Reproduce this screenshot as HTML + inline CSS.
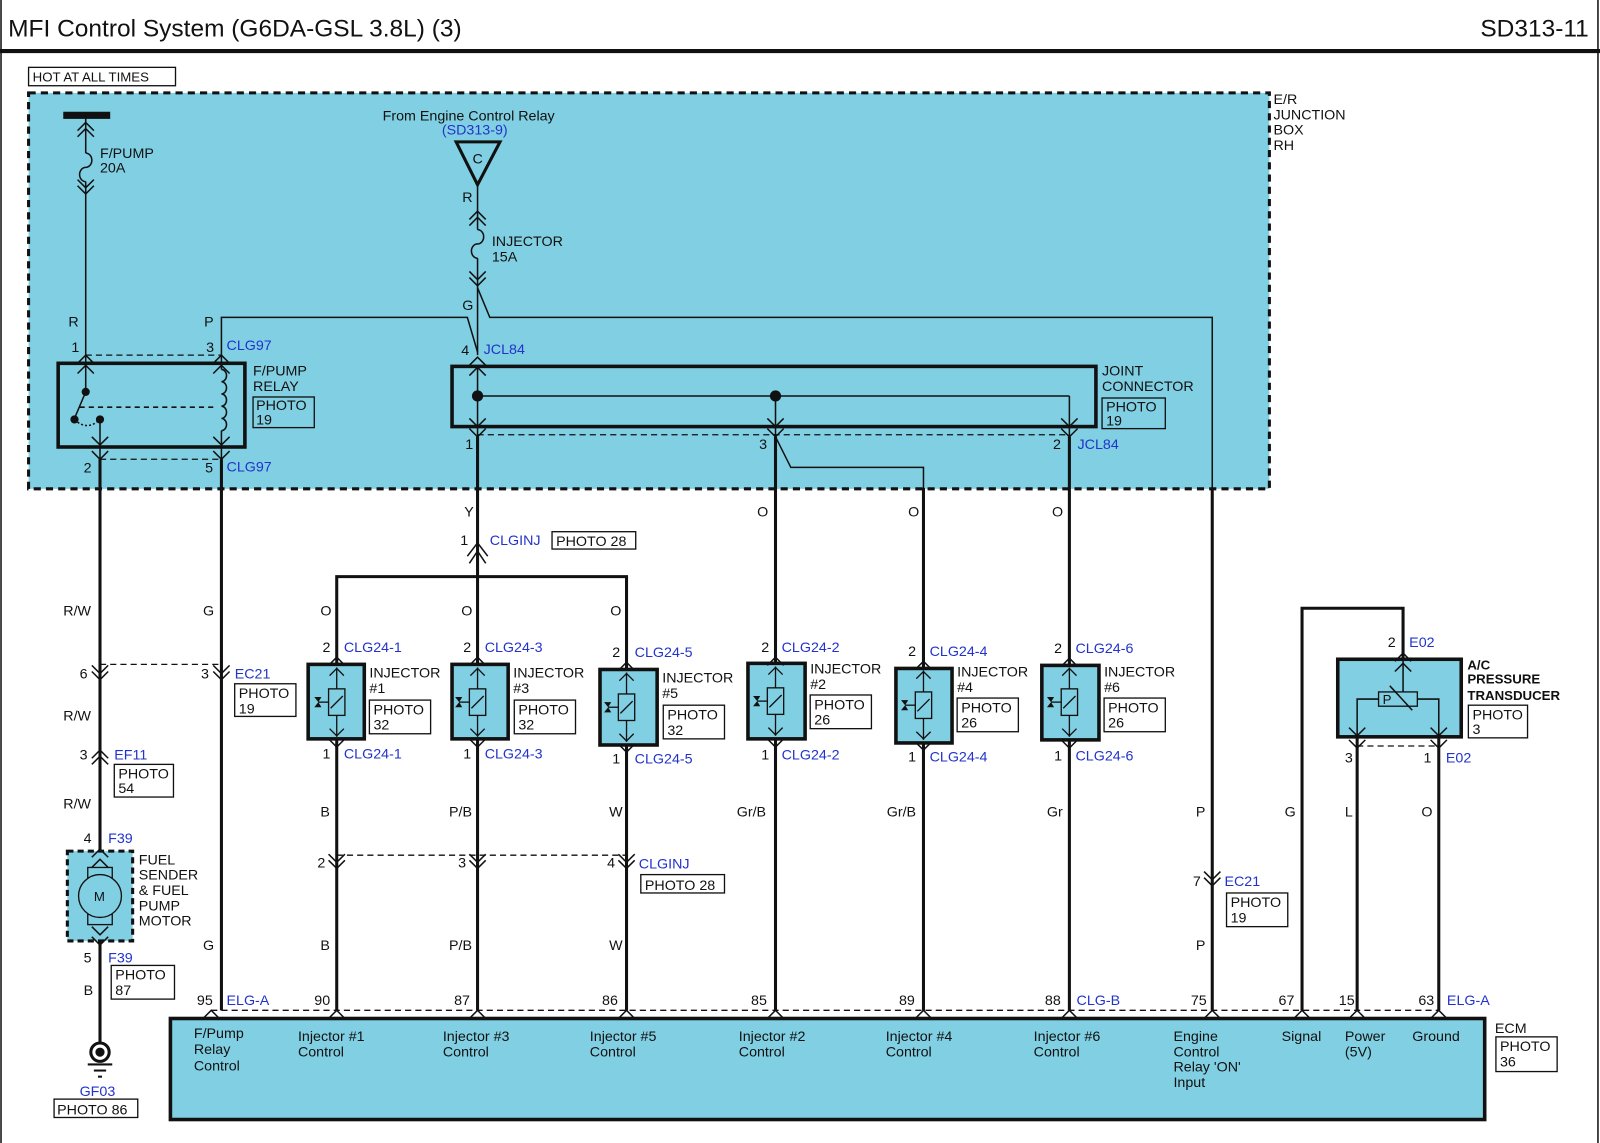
<!DOCTYPE html>
<html><head><meta charset="utf-8"><style>
html,body{margin:0;padding:0;background:#fff;}
svg{display:block;}
text{font-family:"Liberation Sans",Arial,sans-serif;font-size:14px;fill:#111;}
.b{fill:#2233cc;}
.t{fill:none;stroke:#111;stroke-width:1.5;}
.w{fill:none;stroke:#111;stroke-width:3;}
.d{fill:none;stroke:#111;stroke-width:1.3;stroke-dasharray:6,4;}
.bx{fill:none;stroke:#111;stroke-width:1.3;}
.comp{fill:#80cfe2;stroke:#111;stroke-width:3.5;}
</style></head><body>
<svg width="1600" height="1143" viewBox="0 0 1568 1120" preserveAspectRatio="none" xmlns="http://www.w3.org/2000/svg">
<defs>
<polyline id="up" points="-8,8 0,0 8,8" fill="none" stroke="#111" stroke-width="1.5"/>
<polyline id="dn" points="-8,-8 0,0 8,-8" fill="none" stroke="#111" stroke-width="1.5"/>
<g id="inj">
  <line x1="0" y1="-34" x2="0" y2="34" stroke="#111" stroke-width="1.3"/>
  <polyline points="-7,-26 0,-33 7,-26" fill="none" stroke="#111" stroke-width="1.3"/>
  <polyline points="-7,26 0,33 7,26" fill="none" stroke="#111" stroke-width="1.3"/>
  <rect x="-8" y="-13" width="16" height="26" fill="#80cfe2" stroke="#111" stroke-width="1.3"/>
  <line x1="-6" y1="6" x2="6" y2="-6" stroke="#111" stroke-width="1.3"/>
  <line x1="-18" y1="0" x2="-8" y2="0" stroke="#111" stroke-width="1.3"/>
  <polygon points="-22,-5 -18,0 -22,5 -15,5 -18,0 -15,-5" fill="#111"/>
</g>
</defs>
<rect x="0" y="0" width="1568" height="1120" fill="#fff"/>
<line x1="1566" y1="0" x2="1566" y2="1120" stroke="#111" stroke-width="1.5"/>
<line x1="1" y1="0" x2="1" y2="1120" stroke="#111" stroke-width="1.5"/>
<text x="8" y="36" style="font-size:24px">MFI Control System (G6DA-GSL 3.8L) (3)</text>
<text x="1557" y="36" style="font-size:24px" text-anchor="end">SD313-11</text>
<line x1="0" y1="50" x2="1568" y2="50" stroke="#111" stroke-width="4"/>

<!-- junction box -->
<rect x="28" y="91" width="1216" height="388" fill="#80cfe2" stroke="#111" stroke-width="3" stroke-dasharray="7,5"/>
<rect x="28" y="66" width="144" height="18" class="bx"/>
<text x="32" y="80" style="font-size:13px">HOT AT ALL TIMES</text>
<text x="1248" y="102">E/R</text><text x="1248" y="117">JUNCTION</text><text x="1248" y="132">BOX</text><text x="1248" y="147">RH</text>

<!-- fpump fuse -->
<line x1="62" y1="113" x2="108" y2="113" stroke="#111" stroke-width="7"/>
<line x1="84" y1="113" x2="84" y2="150" class="t"/>
<use href="#up" x="84" y="120"/><use href="#up" x="84" y="126"/>
<path d="M84,150 a6,7 0 0 1 0,14 a6,7 0 0 0 0,14" class="t"/>
<line x1="84" y1="178" x2="84" y2="348" class="t"/>
<use href="#dn" x="84" y="184"/><use href="#dn" x="84" y="190"/>
<text x="98" y="155">F/PUMP</text><text x="98" y="169">20A</text>
<text x="67" y="320">R</text><text x="70" y="345">1</text>
<text x="200" y="320">P</text><text x="202" y="345">3</text><text x="222" y="343" class="b">CLG97</text>
<use href="#up" x="84" y="348"/><use href="#up" x="217" y="348"/>
<line x1="84" y1="348" x2="217" y2="348" class="d"/>

<!-- relay -->
<rect x="57" y="356" width="183" height="82" class="comp"/>
<line x1="84" y1="348" x2="84" y2="383" class="t"/>
<use href="#up" x="84" y="358"/>
<circle cx="84" cy="384" r="4" fill="#111"/>
<line x1="84" y1="384" x2="73" y2="410" class="t"/>
<circle cx="73" cy="411" r="4" fill="#111"/>
<circle cx="98" cy="411" r="4" fill="#111"/>
<path d="M73,411 q12,12 25,0" class="t" stroke-dasharray="2,2"/>
<line x1="78" y1="399" x2="212" y2="399" class="t" stroke-dasharray="5,4"/>
<line x1="98" y1="411" x2="98" y2="450" class="t"/>
<use href="#dn" x="98" y="436"/>
<line x1="217" y1="348" x2="217" y2="362" class="t"/>
<path d="M217,362 a5,6 0 0 1 0,12 a5,6 0 0 1 0,12 a5,6 0 0 1 0,12 a5,6 0 0 1 0,12 a5,6 0 0 1 0,12" class="t"/>
<line x1="217" y1="422" x2="217" y2="450" class="t"/>
<use href="#up" x="217" y="358"/><use href="#dn" x="217" y="436"/>
<use href="#dn" x="98" y="450"/><use href="#dn" x="217" y="450"/>
<line x1="98" y1="450" x2="217" y2="450" class="d"/>
<text x="248" y="368">F/PUMP</text><text x="248" y="383">RELAY</text>
<rect x="248" y="389" width="60" height="30" class="bx"/><text x="251" y="402">PHOTO</text><text x="251" y="416">19</text>
<text x="82" y="463">2</text><text x="201" y="463">5</text><text x="222" y="462" class="b">CLG97</text>

<!-- engine control relay -->
<text x="375" y="118">From Engine Control Relay</text>
<text x="433" y="132" class="b">(SD313-9)</text>
<polygon points="447,139 490,139 468,181" fill="none" stroke="#111" stroke-width="3"/>
<text x="463" y="160">C</text>
<text x="453" y="198">R</text>
<line x1="468" y1="181" x2="468" y2="225" class="t"/>
<use href="#up" x="468" y="207"/><use href="#up" x="468" y="213"/>
<path d="M468,225 a6,7 0 0 1 0,14 a6,7 0 0 0 0,14" class="t"/>
<line x1="468" y1="253" x2="468" y2="348" class="t"/>
<use href="#dn" x="468" y="274"/><use href="#dn" x="468" y="280"/>
<text x="482" y="241">INJECTOR</text><text x="482" y="256">15A</text>
<text x="453" y="304">G</text>
<polyline points="468,282 480,311 1188,311 1188,860" class="t"/>
<polyline points="217,348 217,311 458,311 468,345" class="t"/>
<text x="452" y="348">4</text><text x="474" y="347" class="b">JCL84</text>
<use href="#up" x="468" y="350"/>

<!-- joint connector -->
<rect x="443" y="359" width="631" height="59" class="comp"/>
<line x1="468" y1="360" x2="468" y2="428" class="t"/>
<use href="#up" x="468" y="360"/><use href="#dn" x="468" y="418"/>
<line x1="468" y1="388" x2="1048" y2="388" class="t"/>
<circle cx="468" cy="388" r="5.5" fill="#111"/><circle cx="760" cy="388" r="5.5" fill="#111"/>
<line x1="760" y1="388" x2="760" y2="428" class="t"/><use href="#dn" x="760" y="418"/>
<line x1="1048" y1="388" x2="1048" y2="428" class="t"/><use href="#dn" x="1048" y="418"/>
<use href="#dn" x="468" y="428"/><use href="#dn" x="760" y="428"/><use href="#dn" x="1048" y="428"/>
<line x1="468" y1="426" x2="1048" y2="426" class="d"/>
<text x="1080" y="368">JOINT</text><text x="1080" y="383">CONNECTOR</text>
<rect x="1080" y="390" width="62" height="30" class="bx"/><text x="1084" y="403">PHOTO</text><text x="1084" y="417">19</text>
<text x="456" y="440">1</text><text x="744" y="440">3</text><text x="1032" y="440">2</text><text x="1056" y="440" class="b">JCL84</text>
<polyline points="760,428 775,458 905,458 905,480" class="t"/>

<!-- outside wires -->
<line x1="98" y1="450" x2="98" y2="1022" class="w"/>
<line x1="217" y1="450" x2="217" y2="990" class="w"/>
<line x1="468" y1="428" x2="468" y2="990" class="w"/>
<line x1="760" y1="428" x2="760" y2="990" class="w"/>
<line x1="905" y1="478" x2="905" y2="990" class="w"/>
<line x1="1048" y1="428" x2="1048" y2="990" class="w"/>
<line x1="1188" y1="478" x2="1188" y2="990" class="w"/>
<polyline points="330,990 330,565 614,565 614,990" class="w"/>
<polyline points="1276,990 1276,596 1375,596 1375,645" class="w"/>
<line x1="1330" y1="722" x2="1330" y2="990" class="w"/>
<line x1="1410" y1="722" x2="1410" y2="990" class="w"/>

<text x="455" y="506">Y</text>
<polyline points="458,545 468,532 478,545" class="t"/><polyline points="460,552 468,540 476,552" class="t"/>
<text x="451" y="534">1</text><text x="480" y="534" class="b">CLGINJ</text>
<rect x="541" y="521" width="82" height="17" class="bx"/><text x="545" y="535">PHOTO 28</text>
<text x="742" y="506">O</text><text x="890" y="506">O</text><text x="1031" y="506">O</text>
<text x="314" y="603">O</text><text x="452" y="603">O</text><text x="598" y="603">O</text>
<text x="62" y="603">R/W</text><text x="199" y="603">G</text>

<!-- EC21 6/3 -->
<use href="#dn" x="98" y="660"/><use href="#dn" x="98" y="666"/>
<use href="#dn" x="217" y="660"/><use href="#dn" x="217" y="666"/>
<line x1="98" y1="651" x2="217" y2="651" class="d"/>
<text x="78" y="665">6</text><text x="197" y="665">3</text><text x="230" y="665" class="b">EC21</text>
<rect x="230" y="670" width="60" height="32" class="bx"/><text x="234" y="684">PHOTO</text><text x="234" y="699">19</text>
<text x="62" y="706">R/W</text>
<use href="#up" x="98" y="735"/><use href="#up" x="98" y="741"/>
<text x="78" y="744">3</text><text x="112" y="744" class="b">EF11</text>
<rect x="112" y="749" width="58" height="32" class="bx"/><text x="116" y="763">PHOTO</text><text x="116" y="777">54</text>
<text x="62" y="792">R/W</text>

<!-- fuel pump -->
<text x="82" y="826">4</text><text x="106" y="826" class="b">F39</text>
<rect x="66" y="834" width="64" height="88" fill="#80cfe2" stroke="#111" stroke-width="3" stroke-dasharray="6,4"/>
<use href="#up" x="98" y="832"/><use href="#up" x="98" y="842"/>
<rect x="86" y="850" width="24" height="10" fill="none" stroke="#111" stroke-width="1.3"/>
<rect x="86" y="896" width="24" height="10" fill="none" stroke="#111" stroke-width="1.3"/>
<circle cx="98" cy="878" r="21" fill="#80cfe2" stroke="#111" stroke-width="1.3"/>
<text x="92" y="883" style="font-size:13px">M</text>
<use href="#dn" x="98" y="916"/><use href="#dn" x="98" y="926"/>
<text x="136" y="847">FUEL</text><text x="136" y="862">SENDER</text><text x="136" y="877">&amp; FUEL</text><text x="136" y="892">PUMP</text><text x="136" y="907">MOTOR</text>
<text x="82" y="943">5</text><text x="106" y="943" class="b">F39</text>
<rect x="109" y="946" width="62" height="33" class="bx"/><text x="113" y="960">PHOTO</text><text x="113" y="975">87</text>
<text x="82" y="975">B</text>
<text x="199" y="931">G</text>
<circle cx="98" cy="1031" r="9" fill="none" stroke="#111" stroke-width="3"/><circle cx="98" cy="1031" r="4.5" fill="#111"/>
<line x1="86" y1="1043" x2="110" y2="1043" stroke="#111" stroke-width="2"/>
<line x1="92" y1="1049" x2="104" y2="1049" stroke="#111" stroke-width="2"/>
<line x1="96" y1="1055" x2="100" y2="1055" stroke="#111" stroke-width="2"/>
<text x="78" y="1074" class="b">GF03</text>
<rect x="53" y="1077" width="82" height="18" class="bx"/><text x="56" y="1092">PHOTO 86</text>

<!-- injectors -->
<g>
<text x="316" y="639">2</text><text x="337" y="639" class="b">CLG24-1</text>
<rect x="302" y="651" width="55" height="73" class="comp"/><use href="#inj" x="330" y="688"/>
<use href="#up" x="330" y="644"/><use href="#dn" x="330" y="732"/>
<text x="362" y="664">INJECTOR</text><text x="362" y="679">#1</text>
<rect x="362" y="686" width="60" height="33" class="bx"/><text x="366" y="700">PHOTO</text><text x="366" y="715">32</text>
<text x="316" y="743">1</text><text x="337" y="743" class="b">CLG24-1</text>
</g>
<g>
<text x="454" y="639">2</text><text x="475" y="639" class="b">CLG24-3</text>
<rect x="443" y="651" width="55" height="73" class="comp"/><use href="#inj" x="468" y="688"/>
<use href="#up" x="468" y="644"/><use href="#dn" x="468" y="732"/>
<text x="503" y="664">INJECTOR</text><text x="503" y="679">#3</text>
<rect x="504" y="686" width="60" height="33" class="bx"/><text x="508" y="700">PHOTO</text><text x="508" y="715">32</text>
<text x="454" y="743">1</text><text x="475" y="743" class="b">CLG24-3</text>
</g>
<g>
<text x="600" y="644">2</text><text x="622" y="644" class="b">CLG24-5</text>
<rect x="588" y="656" width="56" height="74" class="comp"/><use href="#inj" x="614" y="693"/>
<use href="#up" x="614" y="649"/><use href="#dn" x="614" y="737"/>
<text x="649" y="669">INJECTOR</text><text x="649" y="684">#5</text>
<rect x="650" y="691" width="60" height="33" class="bx"/><text x="654" y="705">PHOTO</text><text x="654" y="720">32</text>
<text x="600" y="748">1</text><text x="622" y="748" class="b">CLG24-5</text>
</g>
<g>
<text x="746" y="639">2</text><text x="766" y="639" class="b">CLG24-2</text>
<rect x="733" y="650" width="56" height="74" class="comp"/><use href="#inj" x="760" y="687"/>
<use href="#up" x="760" y="644"/><use href="#dn" x="760" y="732"/>
<text x="794" y="660">INJECTOR</text><text x="794" y="675">#2</text>
<rect x="794" y="681" width="60" height="33" class="bx"/><text x="798" y="695">PHOTO</text><text x="798" y="710">26</text>
<text x="746" y="744">1</text><text x="766" y="744" class="b">CLG24-2</text>
</g>
<g>
<text x="890" y="643">2</text><text x="911" y="643" class="b">CLG24-4</text>
<rect x="878" y="655" width="55" height="73" class="comp"/><use href="#inj" x="905" y="691"/>
<use href="#up" x="905" y="648"/><use href="#dn" x="905" y="735"/>
<text x="938" y="663">INJECTOR</text><text x="938" y="678">#4</text>
<rect x="938" y="684" width="60" height="33" class="bx"/><text x="942" y="698">PHOTO</text><text x="942" y="713">26</text>
<text x="890" y="746">1</text><text x="911" y="746" class="b">CLG24-4</text>
</g>
<g>
<text x="1033" y="640">2</text><text x="1054" y="640" class="b">CLG24-6</text>
<rect x="1021" y="652" width="56" height="73" class="comp"/><use href="#inj" x="1048" y="688"/>
<use href="#up" x="1048" y="645"/><use href="#dn" x="1048" y="733"/>
<text x="1082" y="663">INJECTOR</text><text x="1082" y="678">#6</text>
<rect x="1082" y="684" width="60" height="33" class="bx"/><text x="1086" y="698">PHOTO</text><text x="1086" y="713">26</text>
<text x="1033" y="745">1</text><text x="1054" y="745" class="b">CLG24-6</text>
</g>

<text x="314" y="800">B</text><text x="440" y="800">P/B</text><text x="597" y="800">W</text>
<text x="722" y="800">Gr/B</text><text x="869" y="800">Gr/B</text><text x="1026" y="800">Gr</text>
<text x="1172" y="800">P</text><text x="1259" y="800">G</text><text x="1318" y="800">L</text><text x="1393" y="800">O</text>

<!-- CLGINJ 2/3/4 -->
<use href="#dn" x="330" y="845"/><use href="#dn" x="330" y="851"/>
<use href="#dn" x="468" y="845"/><use href="#dn" x="468" y="851"/>
<use href="#dn" x="614" y="845"/><use href="#dn" x="614" y="851"/>
<line x1="330" y1="838" x2="614" y2="838" class="d"/>
<text x="311" y="850">2</text><text x="449" y="850">3</text><text x="595" y="850">4</text><text x="626" y="851" class="b">CLGINJ</text>
<rect x="628" y="857" width="82" height="18" class="bx"/><text x="632" y="872">PHOTO 28</text>
<text x="314" y="931">B</text><text x="440" y="931">P/B</text><text x="597" y="931">W</text>

<!-- EC21 7 -->
<use href="#dn" x="1188" y="862"/><use href="#dn" x="1188" y="868"/>
<text x="1169" y="868">7</text><text x="1200" y="868" class="b">EC21</text>
<rect x="1202" y="875" width="60" height="33" class="bx"/><text x="1206" y="889">PHOTO</text><text x="1206" y="904">19</text>
<text x="1172" y="931">P</text>

<!-- A/C transducer -->
<text x="1360" y="634">2</text><text x="1381" y="634" class="b">E02</text>
<rect x="1311" y="646" width="121" height="76" class="comp"/>
<use href="#up" x="1375" y="640"/>
<line x1="1375" y1="646" x2="1375" y2="678" class="t"/><use href="#up" x="1375" y="650"/>
<rect x="1351" y="678" width="38" height="14" fill="none" stroke="#111" stroke-width="1.3"/>
<text x="1355" y="690" style="font-size:13px">P</text>
<line x1="1362" y1="672" x2="1384" y2="696" class="t"/>
<polyline points="1351,685 1330,685 1330,721" class="t"/>
<polyline points="1389,685 1410,685 1410,721" class="t"/>
<use href="#dn" x="1330" y="721"/><use href="#dn" x="1410" y="721"/>
<use href="#dn" x="1330" y="733"/><use href="#dn" x="1410" y="733"/>
<line x1="1330" y1="731" x2="1410" y2="731" class="d"/>
<text x="1438" y="656" style="font-weight:bold;font-size:13px">A/C</text>
<text x="1438" y="670" style="font-weight:bold;font-size:13px">PRESSURE</text>
<text x="1438" y="686" style="font-weight:bold;font-size:13px">TRANSDUCER</text>
<rect x="1439" y="691" width="58" height="32" class="bx"/><text x="1443" y="705">PHOTO</text><text x="1443" y="719">3</text>
<text x="1318" y="747">3</text><text x="1395" y="747">1</text><text x="1417" y="747" class="b">E02</text>

<!-- ECM -->
<line x1="207" y1="990" x2="1410" y2="990" class="d"/>
<text x="193" y="985">95</text><text x="222" y="985" class="b">ELG-A</text>
<text x="308" y="985">90</text><text x="445" y="985">87</text><text x="590" y="985">86</text>
<text x="736" y="985">85</text><text x="881" y="985">89</text><text x="1024" y="985">88</text><text x="1055" y="985" class="b">CLG-B</text>
<text x="1167" y="985">75</text><text x="1253" y="985">67</text><text x="1312" y="985">15</text><text x="1390" y="985">63</text><text x="1418" y="985" class="b">ELG-A</text>
<rect x="167" y="998" width="1288" height="99" class="comp"/>
<use href="#up" x="207" y="990"/><use href="#up" x="330" y="990"/><use href="#up" x="468" y="990"/><use href="#up" x="614" y="990"/>
<use href="#up" x="760" y="990"/><use href="#up" x="905" y="990"/><use href="#up" x="1048" y="990"/><use href="#up" x="1188" y="990"/>
<use href="#up" x="1276" y="990"/><use href="#up" x="1330" y="990"/><use href="#up" x="1410" y="990"/>
<text x="190" y="1017">F/Pump</text><text x="190" y="1033">Relay</text><text x="190" y="1049">Control</text>
<text x="292" y="1020">Injector #1</text><text x="292" y="1035">Control</text>
<text x="434" y="1020">Injector #3</text><text x="434" y="1035">Control</text>
<text x="578" y="1020">Injector #5</text><text x="578" y="1035">Control</text>
<text x="724" y="1020">Injector #2</text><text x="724" y="1035">Control</text>
<text x="868" y="1020">Injector #4</text><text x="868" y="1035">Control</text>
<text x="1013" y="1020">Injector #6</text><text x="1013" y="1035">Control</text>
<text x="1150" y="1020">Engine</text><text x="1150" y="1035">Control</text><text x="1150" y="1050">Relay 'ON'</text><text x="1150" y="1065">Input</text>
<text x="1256" y="1020">Signal</text>
<text x="1318" y="1020">Power</text><text x="1318" y="1035">(5V)</text>
<text x="1384" y="1020">Ground</text>
<text x="1465" y="1012">ECM</text>
<rect x="1466" y="1016" width="60" height="34" class="bx"/><text x="1470" y="1030">PHOTO</text><text x="1470" y="1045">36</text>
</svg>
</body></html>
